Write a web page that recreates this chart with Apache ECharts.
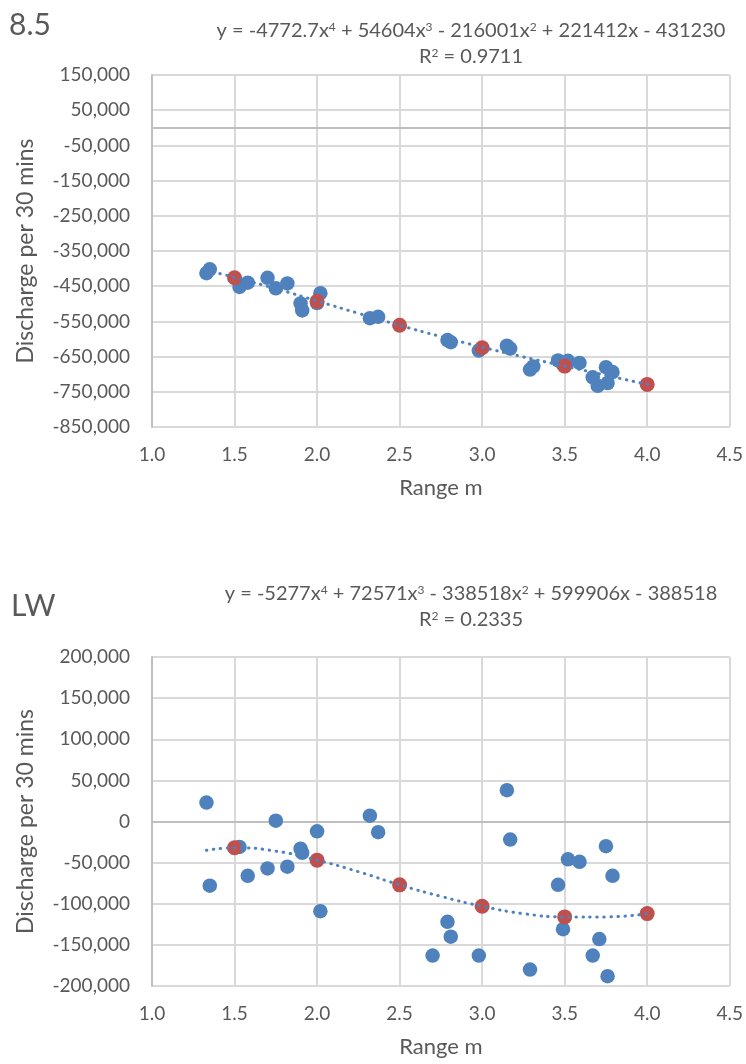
<!DOCTYPE html>
<html>
<head>
<meta charset="utf-8">
<script src="https://cdn.jsdelivr.net/npm/echarts/dist/echarts.min.js"></script>
<style>
html,body{margin:0;padding:0;background:#ffffff;}
#chart{width:746px;height:1064px;}
</style>
</head>
<body>
<div id="chart"></div>
<script>
// ---------- data ----------
const xTicks = [1.0, 1.5, 2.0, 2.5, 3.0, 3.5, 4.0, 4.5];
const topYTicks = [-850000, -750000, -650000, -550000, -450000, -350000, -250000, -150000, -50000, 50000, 150000];
const botYTicks = [-200000, -150000, -100000, -50000, 0, 50000, 100000, 150000, 200000];

const topTitle = '8.5';
const topEquation = 'y = -4772.7x{s|4} + 54604x{s|3} - 216001x{s|2} + 221412x - 431230';
const topR2 = 'R{s|2} = 0.9711';
const botTitle = 'LW';
const botEquation = 'y = -5277x{s|4} + 72571x{s|3} - 338518x{s|2} + 599906x - 388518';
const botR2 = 'R{s|2} = 0.2335';
const xName = 'Range m';
const yName = 'Discharge per 30 mins';

const topBlue = [
  [1.33, -413000], [1.35, -402000], [1.53, -452000], [1.58, -440000], [1.70, -426000],
  [1.75, -456000], [1.82, -442000], [1.90, -499000], [1.91, -519000], [2.00, -498000],
  [2.02, -470000], [2.32, -541000], [2.37, -537000], [2.79, -603000], [2.81, -609000],
  [2.98, -633000], [3.15, -619000], [3.17, -627000], [3.29, -687000], [3.31, -678000],
  [3.46, -661000], [3.49, -672000], [3.52, -662000], [3.59, -668000], [3.67, -709000],
  [3.70, -733000], [3.75, -680000], [3.76, -725000], [3.79, -694000]
];
const topRed = [[1.5, -426000], [2.0, -493000], [2.5, -561000], [3.0, -625000], [3.5, -677000], [4.0, -729000]];
const topTrend = [
  [1.33, -405000], [1.5, -425000], [1.75, -457000], [2.0, -492000], [2.25, -527000], [2.5, -561000],
  [2.75, -593000], [3.0, -623000], [3.25, -651000], [3.5, -677000], [3.75, -703000], [4.0, -729000]
];

const botBlue = [
  [1.33, 23000], [1.35, -78000], [1.53, -31000], [1.58, -66000], [1.70, -57000],
  [1.75, 1000], [1.82, -55000], [1.90, -33000], [1.91, -38000], [2.00, -12000],
  [2.02, -109000], [2.32, 7000], [2.37, -13000], [2.70, -163000], [2.79, -122000],
  [2.81, -140000], [2.98, -163000], [3.15, 38000], [3.17, -22000], [3.29, -180000],
  [3.46, -77000], [3.49, -131000], [3.52, -46000], [3.59, -49000], [3.67, -163000],
  [3.71, -143000], [3.75, -30000], [3.76, -188000], [3.79, -66000]
];
const botRed = [[1.5, -32000], [2.0, -47000], [2.5, -77000], [3.0, -103000], [3.5, -116000], [4.0, -112000]];
const botTrend = [
  [1.33, -35000], [1.5, -32000], [1.75, -36000], [2.0, -47000], [2.25, -61000], [2.5, -77000],
  [2.75, -91000], [3.0, -103000], [3.25, -112000], [3.5, -116000], [3.75, -116000], [4.0, -112000]
];

// ---------- styles ----------
const FONT = 'Lato';
const TXT = '#595959';
const GRIDC = '#D9D9D9';
const AXC = '#BFBFBF';
const BLUE = '#4F81BD';
const RED = '#C0504D';

const chart = echarts.init(document.getElementById('chart'), null, {renderer: 'canvas'});

function xAxes(gi) {
  return [{
    gridIndex: gi, type: 'value',
    min: xTicks[0], max: xTicks[xTicks.length - 1], interval: xTicks[1] - xTicks[0],
    axisLine: {show: false, onZero: false},
    axisTick: {show: false},
    axisLabel: {color: TXT, fontFamily: FONT, fontSize: 19, margin: 18, formatter: v => v.toFixed(1)},
    splitLine: {show: true, lineStyle: {color: GRIDC, width: 2}},
    name: xName, nameLocation: 'middle', nameGap: 50,
    nameTextStyle: {color: TXT, fontFamily: FONT, fontSize: 22}
  }, {
    gridIndex: gi, type: 'value', position: 'top',
    min: xTicks[0], max: xTicks[xTicks.length - 1], interval: xTicks[1] - xTicks[0],
    axisLine: {show: true, onZero: true, lineStyle: {color: AXC, width: 2}},
    axisTick: {show: false}, axisLabel: {show: false}, splitLine: {show: false}
  }];
}
function yAxis(gi, ticks) {
  return {
    gridIndex: gi, type: 'value',
    min: ticks[0], max: ticks[ticks.length - 1], interval: ticks[1] - ticks[0],
    axisLine: {show: true, onZero: false, lineStyle: {color: AXC, width: 2}},
    axisTick: {show: false},
    axisLabel: {color: TXT, fontFamily: FONT, fontSize: 19, margin: 22,
      formatter: v => Math.round(v).toLocaleString('en-US')},
    splitLine: {show: true, lineStyle: {color: GRIDC, width: 2}},
    name: yName, nameLocation: 'middle', nameGap: 115,
    nameTextStyle: {color: TXT, fontFamily: FONT, fontSize: 23}
  };
}
function seriesFor(gi, blue, red, trend) {
  return [{
    type: 'scatter', xAxisIndex: gi * 2, yAxisIndex: gi, data: blue,
    symbolSize: 14.5, itemStyle: {color: BLUE, opacity: 1}, z: 2
  }, {
    type: 'scatter', xAxisIndex: gi * 2, yAxisIndex: gi, data: red,
    symbolSize: 15, itemStyle: {color: RED, opacity: 1}, z: 3
  }, {
    type: 'line', xAxisIndex: gi * 2, yAxisIndex: gi, data: trend,
    smooth: true, showSymbol: false, symbol: 'none',
    lineStyle: {color: BLUE, width: 3, type: [0.5, 6.5], cap: 'round'}, z: 4
  }];
}
function txt(x, y, text, size, align) {
  return {
    type: 'text', x: x, y: y, silent: true,
    style: {
      text: text, fill: TXT, fontFamily: FONT, fontSize: size,
      align: align, verticalAlign: 'middle',
      rich: {s: {fontSize: Math.round(size * 0.62), fill: TXT, fontFamily: FONT, verticalAlign: 'top'}}
    }
  };
}

chart.setOption({
  animation: false,
  backgroundColor: '#ffffff',
  textStyle: {fontFamily: FONT},
  grid: [
    {left: 152, right: 16, top: 75, height: 352},
    {left: 152, right: 16, top: 657, height: 329}
  ],
  xAxis: [...xAxes(0), ...xAxes(1)],
  yAxis: [yAxis(0, topYTicks), yAxis(1, botYTicks)],
  series: [...seriesFor(0, topBlue, topRed, topTrend), ...seriesFor(1, botBlue, botRed, botTrend)],
  graphic: [
    txt(9, 25, topTitle, 30, 'left'),
    txt(471, 31, topEquation, 20, 'center'),
    txt(471, 57, topR2, 20, 'center'),
    txt(11, 606, botTitle, 30, 'left'),
    txt(471, 594, botEquation, 20, 'center'),
    txt(471, 620, botR2, 20, 'center')
  ]
});
</script>
</body>
</html>
